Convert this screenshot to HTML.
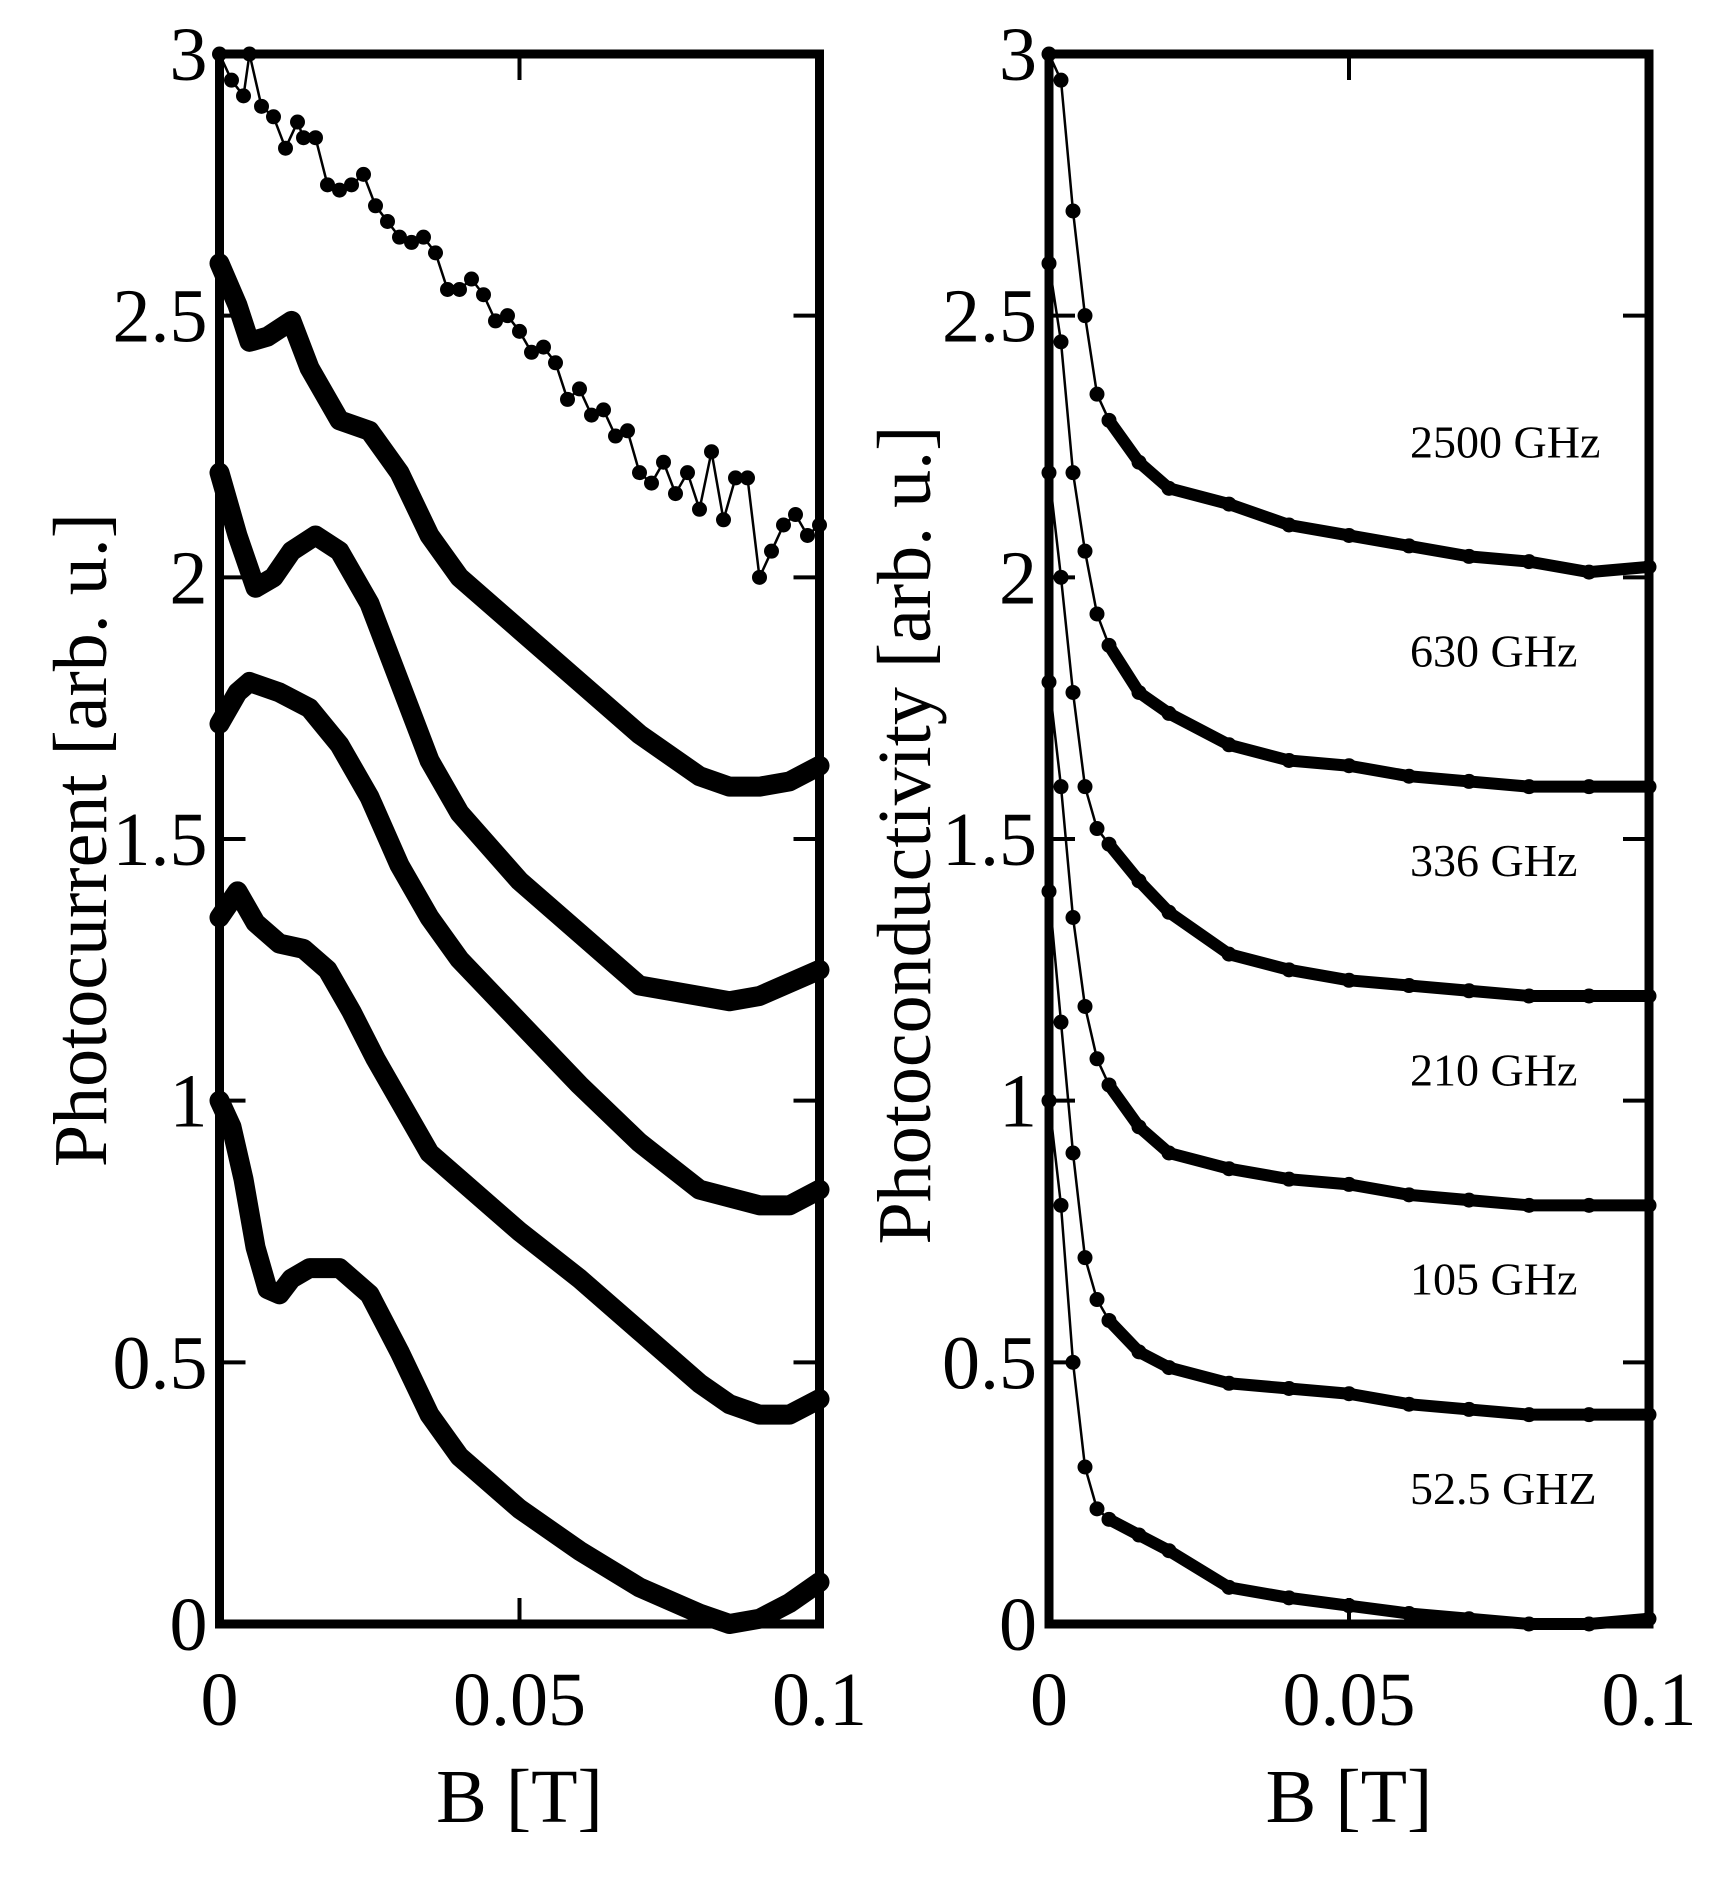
<!DOCTYPE html>
<html><head><meta charset="utf-8"><style>
html,body{margin:0;padding:0;background:#fff}
svg{display:block}
text{font-family:"Liberation Serif",serif;fill:#000}
</style></head><body>
<svg id="chart" width="1722" height="1889" viewBox="0 0 1722 1889" xmlns="http://www.w3.org/2000/svg">
<g id="left"></g>
<g id="right"></g>
</svg>
<script>
const xTicks = [0, 0.05, 0.1];
const xTickLabels = ["0", "0.05", "0.1"];
const yTicks = [0, 0.5, 1, 1.5, 2, 2.5, 3];
const yTickLabels = ["0", "0.5", "1", "1.5", "2", "2.5", "3"];

// Left panel: photocurrent curves [x (T), y]
const pc1x = [0,0.002,0.004,0.005,0.007,0.009,0.011,0.013,0.014,0.016,0.018,0.02,0.022,0.024,0.026,0.028,0.03,0.032,0.034,0.036,0.038,0.04,0.042,0.044,0.046,0.048,0.05,0.052,0.054,0.056,0.058,0.06,0.062,0.064,0.066,0.068,0.07,0.072,0.074,0.076,0.078,0.08,0.082,0.084,0.086,0.088,0.09,0.092,0.094,0.096,0.098,0.1];
const pc1y = [3.0,2.95,2.92,3.0,2.9,2.88,2.82,2.87,2.84,2.84,2.75,2.74,2.75,2.77,2.71,2.68,2.65,2.64,2.65,2.62,2.55,2.55,2.57,2.54,2.49,2.5,2.47,2.43,2.44,2.41,2.34,2.36,2.31,2.32,2.27,2.28,2.2,2.18,2.22,2.16,2.2,2.13,2.24,2.11,2.19,2.19,2.0,2.05,2.1,2.12,2.08,2.1];
const pc2x = [0,0.003,0.005,0.008,0.012,0.015,0.02,0.025,0.03,0.035,0.04,0.05,0.06,0.07,0.08,0.085,0.09,0.095,0.1];
const pc2y = [2.6,2.52,2.45,2.46,2.49,2.4,2.3,2.28,2.2,2.08,2.0,1.9,1.8,1.7,1.62,1.6,1.6,1.61,1.64];
const pc3x = [0,0.003,0.006,0.009,0.012,0.016,0.02,0.025,0.03,0.035,0.04,0.05,0.06,0.07,0.08,0.085,0.09,0.1];
const pc3y = [2.2,2.08,1.98,2.0,2.05,2.08,2.05,1.95,1.8,1.65,1.55,1.42,1.32,1.22,1.2,1.19,1.2,1.25];
const pc4x = [0,0.003,0.005,0.01,0.015,0.02,0.025,0.03,0.035,0.04,0.05,0.06,0.07,0.08,0.09,0.095,0.1];
const pc4y = [1.72,1.78,1.8,1.78,1.75,1.68,1.58,1.45,1.35,1.27,1.15,1.03,0.92,0.83,0.8,0.8,0.83];
const pc5x = [0,0.003,0.006,0.01,0.014,0.018,0.022,0.026,0.03,0.035,0.04,0.05,0.06,0.07,0.08,0.085,0.09,0.095,0.1];
const pc5y = [1.35,1.4,1.34,1.3,1.29,1.25,1.17,1.08,1.0,0.9,0.85,0.75,0.66,0.56,0.46,0.42,0.4,0.4,0.43];
const pc6x = [0,0.002,0.004,0.006,0.008,0.01,0.012,0.015,0.02,0.025,0.03,0.035,0.04,0.045,0.05,0.06,0.07,0.08,0.085,0.09,0.095,0.1];
const pc6y = [1.0,0.95,0.85,0.72,0.64,0.63,0.66,0.68,0.68,0.63,0.52,0.4,0.32,0.27,0.22,0.14,0.07,0.02,0.0,0.01,0.04,0.08];

// Right panel: photoconductivity curves
const freqLabels = ["2500 GHz","630 GHz","336 GHz","210 GHz","105 GHz","52.5 GHZ"];
const freqLabelY = [2.26, 1.86, 1.46, 1.06, 0.66, 0.26];
const rx = [0,0.002,0.004,0.006,0.008,0.01,0.015,0.02,0.03,0.04,0.05,0.06,0.07,0.08,0.09,0.1];
const r1y = [3.0,2.95,2.7,2.5,2.35,2.3,2.22,2.17,2.14,2.1,2.08,2.06,2.04,2.03,2.01,2.02];
const r2y = [2.6,2.45,2.2,2.05,1.93,1.87,1.78,1.74,1.68,1.65,1.64,1.62,1.61,1.6,1.6,1.6];
const r3y = [2.2,2.0,1.78,1.6,1.52,1.49,1.42,1.36,1.28,1.25,1.23,1.22,1.21,1.2,1.2,1.2];
const r4y = [1.8,1.6,1.35,1.18,1.08,1.03,0.95,0.9,0.87,0.85,0.84,0.82,0.81,0.8,0.8,0.8];
const r5y = [1.4,1.15,0.9,0.7,0.62,0.58,0.52,0.49,0.46,0.45,0.44,0.42,0.41,0.4,0.4,0.4];
const r6y = [1.0,0.8,0.5,0.3,0.22,0.2,0.17,0.14,0.07,0.05,0.035,0.02,0.01,0.0,0.0,0.01];

const NS = "http://www.w3.org/2000/svg";
function mk(tag, attrs, parent){const e=document.createElementNS(NS,tag);for(const k in attrs)e.setAttribute(k,attrs[k]);parent.appendChild(e);return e;}

function panel(g, x0, title, titleX){
  const x1 = x0 + 600, yTop = 54, yBot = 1624;
  const sx = v => x0 + v/0.1*(x1-x0);
  const sy = v => yBot - v/3*(yBot-yTop);
  xTicks.forEach((t,i)=>{
    let l=mk('line',{x1:sx(t),x2:sx(t),y1:yBot,y2:yBot-26,stroke:'#000','stroke-width':4},g);
    
    
    l=mk('line',{x1:sx(t),x2:sx(t),y1:yTop,y2:yTop+26,stroke:'#000','stroke-width':4},g);
    
    
    const tx=mk('text',{x:sx(t),y:1725,'font-size':76,'text-anchor':'middle'},g);
    tx.textContent=xTickLabels[i];
    
    
  });
  yTicks.forEach((t,i)=>{
    let l=mk('line',{x1:x0,x2:x0+26,y1:sy(t),y2:sy(t),stroke:'#000','stroke-width':4},g);
    
    
    l=mk('line',{x1:x1,x2:x1-26,y1:sy(t),y2:sy(t),stroke:'#000','stroke-width':4},g);
    
    
    const tx=mk('text',{x:x0-12,y:sy(t)+26,'font-size':76,'text-anchor':'end'},g);
    tx.textContent=yTickLabels[i];
    
    
  });
  const xt=mk('text',{x:(x0+x1)/2,y:1822,'font-size':76,'text-anchor':'middle'},g);
  xt.textContent='B [T]';
  
  
  const yt=mk('text',{x:0,y:0,'font-size':76,'text-anchor':'middle',transform:`translate(${titleX},${x0>500?835:840}) rotate(-90)`},g);
  yt.textContent=title;
  
  
  return {sx,sy,x0,x1,yTop,yBot};
}
function frame(g,p){
  const r=mk('rect',{x:p.x0,y:p.yTop,width:p.x1-p.x0,height:p.yBot-p.yTop,fill:'none',stroke:'#000','stroke-width':9},g);
  
  
}
function pts(xs,ys,p){return xs.map((x,i)=>p.sx(x)+','+p.sy(ys[i])).join(' ');}

const L=document.getElementById('left');
const pl=panel(L,219.5,'Photocurrent [arb. u.]',106);
{
  const pl1=mk('polyline',{points:pts(pc1x,pc1y,pl),fill:'none',stroke:'#000','stroke-width':2.5},L);
  
  
  pc1x.forEach((x,i)=>{
    const c=mk('circle',{cx:pl.sx(x),cy:pl.sy(pc1y[i]),r:7.5},L);
    
    
  });
}
[[pc2x,pc2y],[pc3x,pc3y],[pc4x,pc4y],[pc5x,pc5y],[pc6x,pc6y]].forEach((s,k)=>{
  const e=mk('polyline',{points:pts(s[0],s[1],pl),fill:'none',stroke:'#000','stroke-width':20,'stroke-linejoin':'round','stroke-linecap':'round'},L);
  
  
});
frame(L,pl);

const R=document.getElementById('right');
const pr=panel(R,1049,'Photoconductivity [arb. u.]',930);
[r1y,r2y,r3y,r4y,r5y,r6y].forEach((ys,k)=>{
  const e=mk('polyline',{points:pts(rx,ys,pr),fill:'none',stroke:'#000','stroke-width':2.5},R);
  
  
  const idx=rx.map((x,i)=>i).filter(i=>rx[i]>=0.01);
  const thick=mk('polyline',{points:idx.map(i=>pr.sx(rx[i])+','+pr.sy(ys[i])).join(' '),fill:'none',stroke:'#000','stroke-width':12,'stroke-linejoin':'round','stroke-linecap':'round'},R);
  
  
  rx.forEach((x,i)=>{
    const c=mk('circle',{cx:pr.sx(x),cy:pr.sy(ys[i]),r:7.5},R);
    
    
  });
  const t=mk('text',{x:1410,y:pr.sy(freqLabelY[k])+16,'font-size':46},R);
  t.textContent=freqLabels[k];
  
  
});
frame(R,pr);
</script>
</body></html>
